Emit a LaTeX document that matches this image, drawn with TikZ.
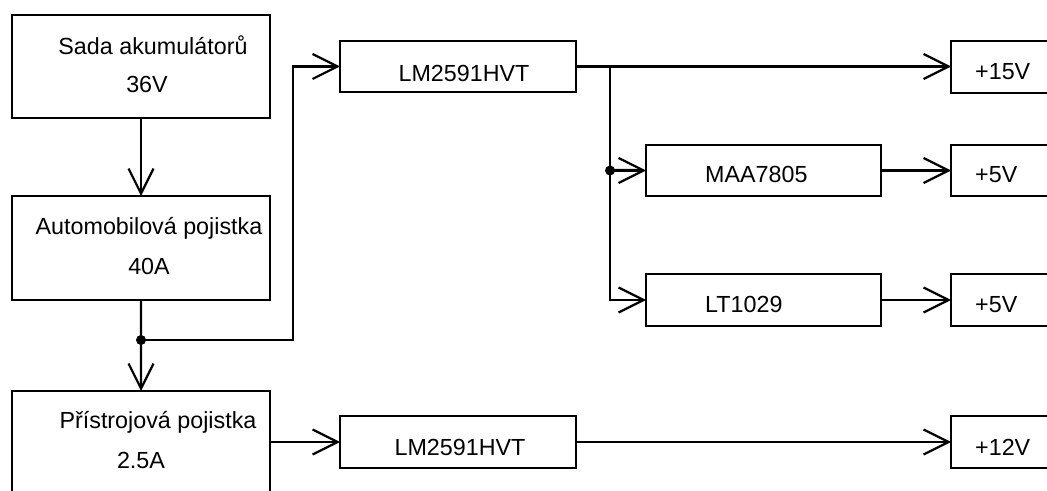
\documentclass[tikz,border=0pt]{standalone}
\usepackage{fontspec}
\setmainfont{Liberation Sans}
\usetikzlibrary{arrows.meta}
\begin{document}
\begin{tikzpicture}[x=1bp,y=-1bp,
  box/.style={draw, line width=2.6bp, anchor=north west, inner sep=0pt, outer sep=0pt},
  wire/.style={line width=2.3bp},
  arr/.style={wire, -{Straight Barb[length=25bp,width=25bp,line width=2.2bp]}},
  lbl/.style={inner sep=0pt, font=\fontsize{23.3bp}{27bp}\selectfont, anchor=base},
  lblw/.style={lbl, anchor=base west},
  dot/.style={circle, fill=black, inner sep=0pt, minimum size=10bp}]
\useasboundingbox (0,0) rectangle (1047,491);
\clip (0,0) rectangle (1047,491);
% boxes
\node[box, minimum width=258bp, minimum height=103bp] (sada) at (12,15) {};
\node[box, minimum width=258bp, minimum height=104bp] (auto) at (12,196) {};
\node[box, minimum width=258bp, minimum height=130bp] (pris) at (12,391) {};
\node[box, minimum width=236bp, minimum height=51bp] (lm1) at (340,41) {};
\node[box, minimum width=150bp, minimum height=52bp] (v15) at (951,41) {};
\node[box, minimum width=235bp, minimum height=51bp] (maa) at (646,145) {};
\node[box, minimum width=150bp, minimum height=51bp] (v5a) at (951,145) {};
\node[box, minimum width=235bp, minimum height=52bp] (lt) at (646,274) {};
\node[box, minimum width=150bp, minimum height=52bp] (v5b) at (951,274) {};
\node[box, minimum width=236bp, minimum height=52bp] (lm2) at (340,416) {};
\node[box, minimum width=150bp, minimum height=52bp] (v12) at (951,416) {};
% texts
\node[lbl] (t1a) at (153,55) {Sada akumulátorů};
\node[lbl] (t1b) at (147,93) {36V};
\node[lbl] (t2a) at (149,235) {Automobilová pojistka};
\node[lbl] (t2b) at (149,275) {40A};
\node[lbl] (t3a) at (158,428) {Přístrojová pojistka};
\node[lbl] (t3b) at (141,468) {2.5A};
\node[lbl] (tlm1) at (464,82) {LM2591HVT};
\node[lblw] (tmaa) at (705,183) {MAA7805};
\node[lblw] (tlt) at (705,313) {LT1029};
\node[lbl] (tlm2) at (460,455) {LM2591HVT};
\node[lblw] (t15) at (975,80) {+15V};
\node[lblw] (t5a) at (975,183) {+5V};
\node[lblw] (t5b) at (975,313) {+5V};
\node[lblw] (t12) at (975,455) {+12V};
% junctions
\coordinate (j1) at (141,340);
\coordinate (b1) at (610,66.5);
\coordinate (j2) at (610,170.5);
\coordinate (c1) at (293,340);
% connectors
\draw[arr] (sada.south) -- (auto.north);
\draw[wire] (auto.south) -- (j1);
\draw[arr] (j1) -- (pris.north);
\draw[arr] (j1) -- (c1) |- (lm1.west);
\draw[arr] (lm1.east) -- (lm1.east -| v15.west);
\draw[arr] (b1) |- (lt.west);
\draw[arr, line width=3bp] (j2) -- (maa.west);
\draw[arr, line width=3bp] (maa.east) -- (v5a.west);
\draw[arr] (lt.east) -- (v5b.west);
\draw[arr] (lm2.west -| pris.east) -- (lm2.west);
\draw[arr] (lm2.east) -- (v12.west);
\node[dot] (d1) at (j1) {};
\node[dot] (d2) at (j2) {};
\end{tikzpicture}
\end{document}
